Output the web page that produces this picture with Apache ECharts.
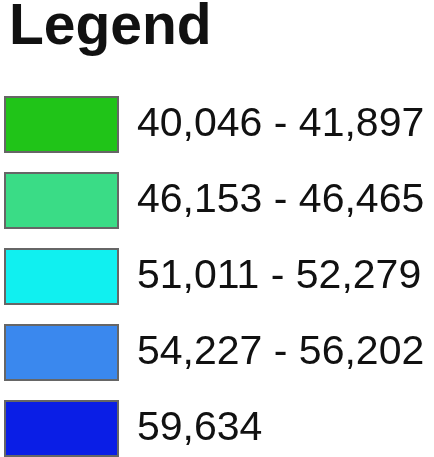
<!DOCTYPE html>
<html>
<head>
<meta charset="utf-8">
<script src="https://cdn.jsdelivr.net/npm/echarts@6/dist/echarts.min.js"></script>
<style>
  html, body { margin: 0; padding: 0; background: #fff; }
  #chart { width: 434px; height: 457px; }
</style>
</head>
<body>
<div id="chart"></div>
<script>
// legend classes (value ranges)
const classLabels = [
  '40,046 - 41,897',
  '46,153 - 46,465',
  '51,011 - 52,279',
  '54,227 - 56,202',
  '59,634'
]
// class colours
const classColors = ['#20c418', '#3adc86', '#10f0f0', '#3a88ee', '#0a1ee6']

const chart = echarts.init(document.getElementById('chart'))

const option = {
  animation: false,
  title: {
    text: 'Legend',
    left: 9,
    top: 0,
    padding: 0,
    textStyle: {
      fontFamily: 'Liberation Sans',
      fontSize: 57,
      fontWeight: 'bold',
      color: '#111'
    }
  },
  // hidden axes, series only feed the legend
  xAxis: { type: 'category', show: false, data: [] },
  yAxis: { type: 'value', show: false },
  legend: {
    orient: 'vertical',
    left: 4,
    top: 96,
    height: 420,
    padding: 0,
    icon: 'rect',
    itemWidth: 113,
    itemHeight: 55,
    itemGap: 19,
    selectedMode: false,
    itemStyle: {
      borderColor: '#666',
      borderWidth: 2
    },
    textStyle: {
      fontFamily: 'Liberation Sans',
      fontSize: 41,
      color: '#111',
      padding: [8, 0, 0, 14]
    },
    data: classLabels
  },
  series: classLabels.map((name, i) => ({
    name: name,
    type: 'bar',
    data: [],
    itemStyle: { color: classColors[i] }
  }))
}

chart.setOption(option)
</script>
</body>
</html>
